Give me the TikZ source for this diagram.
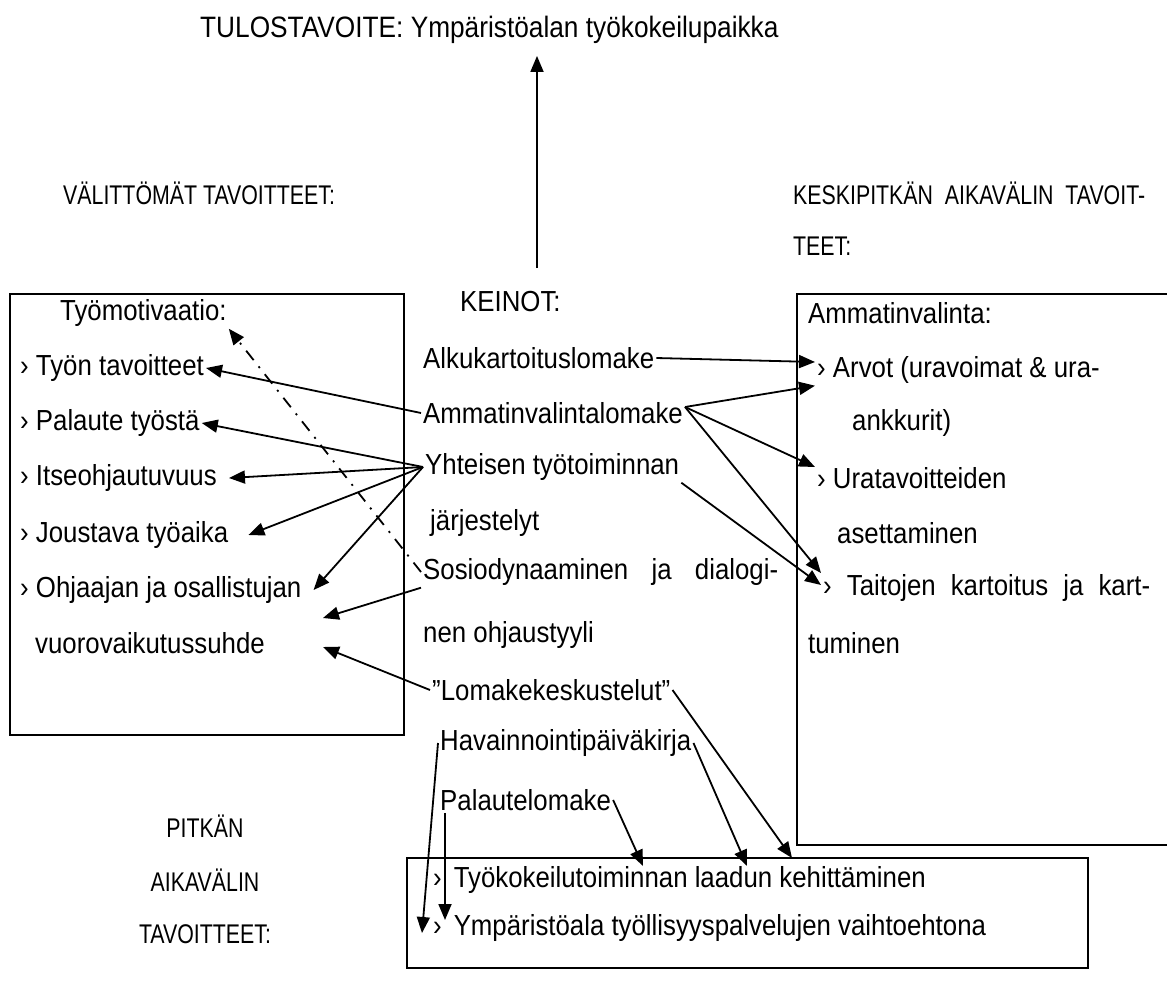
\documentclass[tikz,border=0pt]{standalone}
\usepackage{fontspec}
\setmainfont{Liberation Sans}[FakeStretch=0.89]
\newfontfamily\hdrfont{Liberation Sans}[FakeStretch=0.79]
\usetikzlibrary{arrows.meta,positioning}
\tikzset{
    lbl/.style={anchor=west, inner sep=2pt, font=\fontsize{29}{33}\selectfont},
    hdr/.style={lbl, font=\hdrfont\fontsize{27}{31}\selectfont},
    arr/.style={-{Triangle[length=16pt,width=13pt]}, line width=1.8pt},
    dotarr/.style={arr, dash pattern=on 12pt off 8pt on 2pt off 8pt},
    frame/.style={line width=2pt}
}
\begin{document}
\begin{tikzpicture}[x=1pt, y=-1pt]
    \useasboundingbox (0,0) rectangle (1167,990);
    \draw[frame] (10,294) rectangle (404,735);
    \draw[frame] (1170,294) -- (797,294) -- (797,845) -- (1170,845);
    \draw[frame] (407,858) rectangle (1088,968);

    \node[lbl, font=\fontsize{29.5}{33}\selectfont] (tulos) at (198,30) {TULOSTAVOITE: Ympäristöalan työkokeilupaikka};
    \node[hdr] (valit) at (61,193) {VÄLITTÖMÄT TAVOITTEET:};
    \node[hdr] (keski) at (791,193) {\makebox[352pt][s]{KESKIPITKÄN AIKAVÄLIN TAVOIT-}};
    \node[hdr] (teet) at (791,246) {TEET:};
    \node[hdr, anchor=center] (pitkan) at (205,826) {PITKÄN};
    \node[hdr, anchor=center] (aikav) at (205,880) {AIKAVÄLIN};
    \node[hdr, anchor=center] (tavpit) at (205,934) {TAVOITTEET:};

    % valittomat
    \node[lbl] (motiv) at (58,313) {Työmotivaatio:};
    \node[lbl] (tavoit) at (18,368) {› Työn tavoitteet};
    \node[lbl] (palaute) at (18,423) {› Palaute työstä};
    \node[lbl] (itse) at (18,478) {› Itseohjautuvuus};
    \node[lbl] (joust) at (18,535) {› Joustava työaika};
    \node[lbl] (ohjaaja) at (18,590) {› Ohjaajan ja osallistujan};
    \node[lbl] (vuoro) at (33,643) {vuorovaikutussuhde};

    % keinot
    \node[lbl] (keinot) at (458,302) {KEINOT:};
    \node[lbl] (alku) at (421,358) {Alkukartoituslomake};
    \node[lbl] (ammlom) at (421,413) {Ammatinvalintalomake};
    \node[lbl] (yhteis) at (423,467) {Yhteisen työtoiminnan};
    \node[lbl] (jarj) at (428,523) {järjestelyt};
    \node[lbl] (sosio) at (421,572) {\makebox[355pt][s]{Sosiodynaaminen ja dialogi-}};
    \node[lbl] (ohjtyyli) at (421,635) {nen ohjaustyyli};
    \node[lbl] (lomake) at (430,690) {”Lomakekeskustelut”};
    \node[lbl] (havain) at (438,743) {Havainnointipäiväkirja};
    \node[lbl] (palautel) at (438,800) {Palautelomake};

    % keskipitkan
    \node[lbl] (ammval) at (806,313) {Ammatinvalinta:};
    \node[lbl] (arvot) at (815,370) {› Arvot (uravoimat \& ura-};
    \node[lbl] (ankk) at (850,423) {ankkurit)};
    \node[lbl] (urat) at (815,478) {› Uratavoitteiden};
    \node[lbl] (asett) at (835,533) {asettaminen};
    \node[lbl] (taito) at (821,588) {\makebox[327pt][s]{› Taitojen kartoitus ja kart-}};
    \node[lbl] (tumin) at (806,643) {tuminen};

    % pitkan
    \node[lbl] (kehit) at (431,880) {›\hspace{12pt}Työkokeilutoiminnan laadun kehittäminen};
    \node[lbl] (ymp) at (431,928) {›\hspace{12pt}Ympäristöala työllisyyspalvelujen vaihtoehtona};

    \coordinate (ylos) at (537,268);
    \coordinate (lomin) at (792,858);
    \coordinate (havin) at (747,866);
    \coordinate (palin) at (643,866);

    \draw[arr, shorten >=10pt] (ylos) -- (ylos |- tulos.south);
    \draw[arr] (ammlom.west) -- (tavoit.east);
    \draw[arr] (yhteis.west) -- (palaute.east);
    \draw[arr] (yhteis.west) -- ([xshift=10pt]itse.east);
    \draw[arr] (yhteis.west) -- ([xshift=18pt]joust.east);
    \draw[arr] (yhteis.west) -- ([xshift=10pt]ohjaaja.east);
    \draw[arr] (sosio.south west) -- ([xshift=56pt, yshift=25pt]vuoro.east);
    \draw[arr] (lomake.west) -- ([xshift=56pt, yshift=-4pt]vuoro.east);
    \draw[dotarr] (sosio.west) -- (motiv.south east);
    \draw[arr] (alku.east) -- ([yshift=8pt]arvot.west);
    \draw[arr] ([yshift=6pt]ammlom.east) -- (arvot.south west);
    \draw[arr] ([yshift=6pt]ammlom.east) -- ([yshift=11pt]urat.west);
    \draw[arr] ([yshift=6pt]ammlom.east) -- ([yshift=15pt]taito.west);
    \draw[arr] (yhteis.south east) -- ([yshift=3pt]taito.west);
    \draw[arr] (lomake.east) -- (lomin);
    \draw[arr] (havain.east) -- (havin);
    \draw[arr] (palautel.east) -- (palin);
    \draw[arr] (havain.west) -- ([xshift=-9pt, yshift=-5pt]ymp.west);
    \draw[arr] ([xshift=7pt]palautel.south west) -- ([xshift=7pt, yshift=8pt]palautel.south west |- ymp.west);
\end{tikzpicture}
\end{document}
